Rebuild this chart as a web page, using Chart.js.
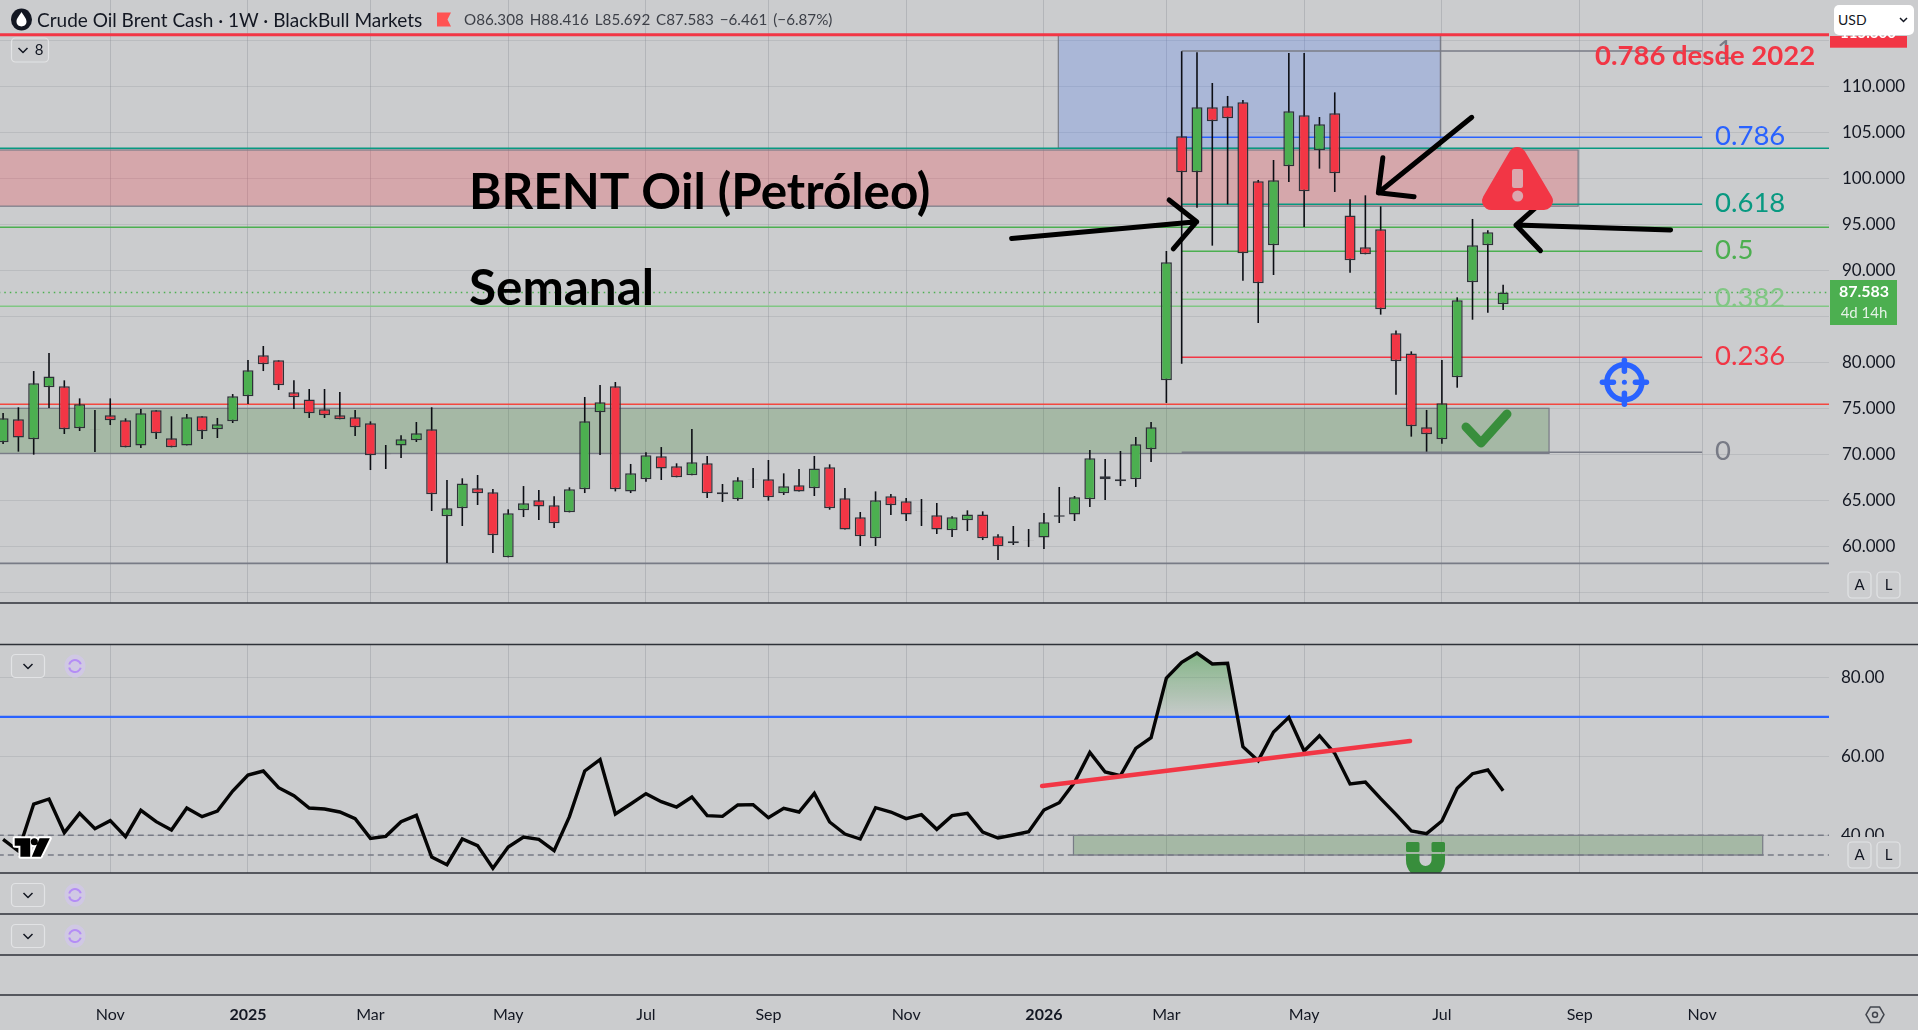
<!DOCTYPE html>
<html>
<head>
<meta charset="utf-8">
<title>Crude Oil Brent Cash</title>
<script src="https://cdn.jsdelivr.net/npm/chart.js@4"></script>
<style>
    body { margin: 0; background: #cbccce; overflow: hidden; font-family: Lato, sans-serif; }
    #wrap { position: relative; width: 1918px; height: 1030px; }
    canvas { position: absolute; left: 0; top: 0; }
    .title { position: absolute; left: 37px; top: 7px; font-size: 19px; line-height: 25px; color: #131722; white-space: nowrap; }
    .ohlc { position: absolute; left: 464px; top: 9px; font-size: 15.2px; line-height: 21px; color: #3d4048; white-space: nowrap; word-spacing: 2px; }
    .usd { position: absolute; left: 1834px; top: 5px; width: 80px; height: 30px; background: #fff; border-radius: 5px; font-size: 14px; line-height: 30px; text-indent: 4px; color: #131722; }
    .usd svg { position: absolute; right: 6px; top: 12px; }
</style>
</head>
<body>
<div id="wrap">
    <canvas id="myChart" width="1918" height="1030"></canvas>
    <div class="title">Crude Oil Brent Cash · 1W · BlackBull Markets</div>
    <div class="ohlc">O86.308 H88.416 L85.692 C87.583 −6.461 (−6.87%)</div>
    <div class="usd">USD<svg width="9" height="6"><path d="M1 1 L4.5 4.5 L8 1" fill="none" stroke="#131722" stroke-width="1.5"/></svg></div>
</div>
<script>
// weekly candles, oldest first (the first one is cut off by the left edge)
const opens = [71.30, 73.80, 71.63, 77.28, 77.39, 72.82, 72.72, 74.24, 73.69, 70.97, 74.78, 71.74, 70.97, 74.13, 72.71, 73.58, 76.30, 80.76, 80.21, 76.74, 75.97, 74.89, 74.24, 74.02, 73.37, 70.07, 70.97, 71.52, 72.71, 63.26, 64.13, 66.30, 65.87, 58.80, 63.91, 65.00, 64.45, 63.69, 66.19, 74.56, 77.39, 65.97, 67.28, 69.78, 68.69, 67.71, 69.02, 65.87, 65.11, 67.29, 67.28, 65.76, 66.63, 66.30, 68.58, 65.21, 63.15, 60.87, 65.43, 64.89, 63.81, 63.37, 61.74, 62.82, 63.47, 61.08, 60.54, 60.66, 60.97, 63.22, 63.47, 65.11, 67.28, 67.28, 67.28, 70.54, 78.04, 104.56, 100.65, 107.71, 107.82, 108.26, 99.67, 92.71, 101.30, 106.84, 103.04, 107.06, 95.97, 92.50, 94.45, 83.15, 80.97, 72.93, 71.63, 78.37, 88.69, 92.71, 86.308];
const highs = [74.49, 75.11, 79.05, 81.01, 78.04, 76.08, 74.82, 76.08, 73.91, 74.92, 74.78, 74.13, 74.38, 74.13, 73.95, 76.55, 80.25, 81.77, 80.21, 78.04, 77.10, 77.10, 76.77, 74.82, 73.58, 71.01, 72.06, 73.51, 75.11, 67.21, 67.39, 67.75, 66.23, 64.02, 66.55, 66.12, 65.43, 66.41, 76.23, 77.53, 77.86, 68.95, 70.21, 70.79, 69.02, 72.75, 69.82, 66.77, 67.50, 68.51, 69.38, 67.93, 68.40, 69.82, 68.91, 66.34, 63.73, 65.97, 65.68, 65.25, 65.14, 64.71, 63.26, 63.91, 63.80, 61.30, 62.21, 61.88, 63.62, 66.45, 65.47, 70.47, 69.49, 70.36, 71.88, 73.51, 92.10, 113.80, 113.69, 110.36, 108.95, 108.51, 99.82, 101.99, 113.62, 113.62, 106.66, 109.34, 97.71, 98.15, 96.95, 83.47, 81.19, 74.82, 80.25, 87.06, 95.58, 94.34, 88.416];
const lows = [71.12, 70.29, 69.96, 75.03, 72.21, 72.53, 70.25, 73.18, 70.76, 70.68, 71.66, 70.76, 70.97, 71.66, 71.77, 73.40, 75.47, 79.05, 76.99, 74.92, 73.95, 73.95, 73.80, 71.99, 68.29, 68.40, 69.60, 71.34, 63.84, 58.18, 62.21, 64.49, 59.27, 58.80, 63.18, 62.86, 61.99, 63.69, 65.79, 69.92, 65.97, 65.79, 67.03, 67.21, 67.50, 67.71, 65.25, 64.82, 64.96, 66.34, 64.96, 65.58, 65.97, 65.47, 63.98, 61.84, 60.03, 60.03, 63.40, 62.75, 62.21, 61.34, 61.01, 61.66, 60.68, 58.51, 60.14, 59.92, 59.71, 62.53, 62.75, 64.27, 65.03, 66.55, 66.45, 69.16, 75.58, 79.85, 96.81, 92.68, 97.17, 88.87, 84.27, 89.49, 99.60, 94.71, 101.05, 98.51, 89.74, 91.74, 85.18, 76.48, 71.92, 70.29, 71.16, 77.24, 84.63, 85.39, 85.692];
const closes = [73.91, 71.84, 77.71, 78.47, 72.71, 75.43, 72.70, 73.69, 70.76, 74.45, 72.28, 70.76, 74.02, 72.50, 73.26, 76.30, 79.13, 79.78, 77.50, 76.19, 74.45, 74.24, 73.80, 72.93, 69.89, 70.00, 71.63, 72.28, 65.65, 64.13, 66.84, 65.76, 61.19, 63.58, 64.67, 64.34, 62.50, 66.19, 73.58, 75.65, 66.19, 67.93, 69.89, 68.47, 67.50, 69.13, 65.76, 65.65, 67.17, 67.27, 65.32, 66.52, 65.97, 68.47, 64.13, 61.84, 61.08, 65.00, 64.45, 63.47, 63.79, 61.84, 63.15, 63.47, 60.87, 60.00, 60.32, 60.64, 62.61, 63.37, 65.32, 69.56, 67.61, 67.06, 71.08, 72.93, 90.87, 100.65, 107.71, 106.19, 106.52, 91.84, 88.58, 99.78, 107.28, 98.58, 105.87, 100.54, 91.08, 91.74, 85.76, 80.11, 73.04, 72.17, 75.54, 86.74, 92.71, 94.13, 87.583];
const rsiValues = [38.98, 36.03, 47.92, 49.19, 40.67, 45.56, 41.68, 43.70, 39.65, 46.32, 43.45, 41.34, 46.91, 44.72, 46.15, 51.22, 55.27, 56.28, 52.06, 50.03, 46.91, 46.66, 45.90, 44.21, 39.23, 39.74, 43.45, 45.05, 34.51, 32.57, 39.06, 37.38, 31.64, 37.04, 39.57, 38.98, 36.11, 44.72, 56.28, 59.15, 45.39, 47.92, 50.54, 48.52, 47.16, 49.70, 44.97, 44.80, 47.67, 47.76, 44.46, 46.83, 45.90, 50.62, 43.37, 40.33, 39.06, 47.00, 45.90, 44.21, 45.22, 41.51, 44.97, 45.56, 40.84, 39.32, 40.08, 40.92, 46.41, 48.26, 53.41, 61.00, 56.03, 55.10, 62.02, 64.72, 79.82, 83.79, 86.15, 83.37, 83.54, 62.44, 58.90, 66.15, 69.86, 61.34, 65.22, 60.75, 52.99, 53.49, 49.27, 45.31, 41.09, 40.41, 43.62, 51.89, 55.60, 56.53, 51.30];
const weeks = opens.map((_, i) => i - 1);

const timeTicks = [6, 15, 23, 32, 41, 49, 58, 67, 75, 84, 93, 102, 110];
const timeLabels = ["Nov", "2025", "Mar", "May", "Jul", "Sep", "Nov", "2026", "Mar", "May", "Jul", "Sep", "Nov"];
const priceTicks = [55, 60, 65, 70, 75, 80, 85, 90, 95, 100, 105, 110, 115];
const priceLabels = ["", "60.000", "65.000", "70.000", "75.000", "80.000", "", "90.000", "95.000", "100.000", "105.000", "110.000", ""];
const rsiTicks = [40, 60, 80];
const rsiLabels = ["40.00", "60.00", "80.00"];

const fibNames = ["1", "0.786", "0.618", "0.5", "0.382", "0.236", "0"];
const fibPrices = [113.84, 104.46, 97.17, 92.07, 86.85, 80.54, 70.22];
const fibColors = ["#787b86", "#2962ff", "#089981", "#4caf50", "#81c784", "#f23645", "#787b86"];

const GREEN = "#4caf50";
const RED = "#f23645";
const BG = "#cbccce";
const LINE_DARK = "#2e3138";
const FONT = "Lato, sans-serif";

// scale ends chosen so the two panes land where they are in the screenshot
const xMin = -1.202, xMax = 118.29;
const priceMin = 11.23, priceMax = 119.38;
const rsiMin = -0.43, rsiMax = 251.47;

const hLine = (value, from, to, color, width, axis, dash) => ({
    type: "line",
    data: [{ x: from, y: value }, { x: to, y: value }],
    borderColor: color,
    borderWidth: width,
    borderDash: dash || [],
    pointRadius: 0,
    yAxisID: axis,
    order: 5,
});

const freeLine = (points, color, width, axis) => ({
    type: "line",
    data: points,
    borderColor: color,
    borderWidth: width,
    borderCapStyle: "round",
    borderJoinStyle: "round",
    pointRadius: 0,
    tension: 0,
    yAxisID: axis,
    order: 0,
});

const ctx = document.getElementById("myChart").getContext("2d");

const rsiGradient = ctx.createLinearGradient(0, 655, 0, 717);
rsiGradient.addColorStop(0, "rgba(67, 160, 71, 0.5)");
rsiGradient.addColorStop(1, "rgba(67, 160, 71, 0.02)");

const datasets = [
    // body of each candle
    {
        type: "bar",
        data: weeks.map((w, i) => ({ x: w, y: [opens[i], closes[i]] })),
        backgroundColor: weeks.map((_, i) => (closes[i] >= opens[i] ? GREEN : RED)),
        borderColor: LINE_DARK,
        borderWidth: 1.5,
        borderSkipped: false,
        barThickness: 11,
        grouped: false,
        inflateAmount: 0,
        yAxisID: "y",
        order: 2,
    },
    // wicks
    {
        type: "bar",
        data: weeks.map((w, i) => ({ x: w, y: [lows[i], highs[i]] })),
        backgroundColor: "#0c0e14",
        borderWidth: 0,
        barThickness: 1.6,
        grouped: false,
        inflateAmount: 0,
        yAxisID: "y",
        order: 3,
    },
    // RSI
    {
        type: "line",
        data: weeks.map((w, i) => ({ x: w, y: rsiValues[i] })),
        borderColor: "#050505",
        borderWidth: 3.4,
        pointRadius: 0,
        tension: 0,
        fill: { target: { value: 70 }, above: rsiGradient, below: "rgba(0, 0, 0, 0)" },
        yAxisID: "yRsi",
        order: 1,
    },
    hLine(70, -2, 119, "#2962ff", 2.2, "yRsi"),
    hLine(40, -2, 119, "#787b86", 1.4, "yRsi", [6, 4]),
    hLine(35, -2, 119, "#787b86", 1.4, "yRsi", [6, 4]),
    freeLine([{ x: 66.88, y: 52.48 }, { x: 90.92, y: 63.87 }], RED, 4.5, "yRsi"),

    // levels on the price pane
    hLine(115.6, -2, 119, RED, 3, "y"),
    hLine(103.26, -2, 119, "#089981", 1.5, "y"),
    hLine(94.67, -2, 119, GREEN, 1.5, "y"),
    hLine(87.583, -2, 119, GREEN, 1.5, "y", [1.5, 4]),
    hLine(86.09, -2, 119, "#81c784", 1.5, "y"),
    hLine(75.43, -2, 119, "#f4473f", 1.5, "y"),
    hLine(58.15, -2, 119, "#787b86", 1.8, "y"),
    ...fibPrices.map((p, i) => hLine(p, 76, 110, fibColors[i], 1.5, "y")),

    // hand drawn arrows
    freeLine([{ x: 64.89, y: 93.46 }, { x: 76.98, y: 95.28 }, { x: 75.18, y: 97.64 }, { x: 76.98, y: 95.28 }, { x: 75.45, y: 92.33 }], "#000", 5, "y"),
    freeLine([{ x: 94.95, y: 106.63 }, { x: 88.85, y: 98.43 }, { x: 89.14, y: 102.24 }, { x: 88.85, y: 98.43 }, { x: 91.18, y: 98.0 }], "#000", 5, "y"),
    freeLine([{ x: 107.94, y: 94.38 }, { x: 97.84, y: 94.92 }, { x: 99.57, y: 97.46 }, { x: 97.84, y: 94.92 }, { x: 99.44, y: 92.13 }], "#000", 5, "y"),
];

const roundBox = (c, x, y, w, h, r) => {
    c.beginPath();
    c.roundRect(x, y, w, h, r);
    c.strokeStyle = "#e2e3e5";
    c.lineWidth = 1.2;
    c.stroke();
};

const chevron = (c, x, y) => {
    c.beginPath();
    c.moveTo(x - 4.5, y - 2);
    c.lineTo(x, y + 2.5);
    c.lineTo(x + 4.5, y - 2);
    c.strokeStyle = "#131722";
    c.lineWidth = 1.5;
    c.stroke();
};

const paneControls = (c, y) => {
    roundBox(c, 11.5, y - 11.5, 33, 23, 4);
    chevron(c, 28, y);
    c.beginPath();
    c.ellipse(75, y, 10.5, 11.5, 0, 0, Math.PI * 2);
    c.fillStyle = "#d0c8e4";
    c.fill();
    c.strokeStyle = "#b48df5";
    c.lineWidth = 2;
    c.beginPath();
    c.arc(75, y, 6, 0.3, 2.9);
    c.stroke();
    c.beginPath();
    c.arc(75, y, 6, 3.4, 6);
    c.stroke();
};

const textAt = (c, str, x, y, font, color, align) => {
    c.font = font;
    c.fillStyle = color;
    c.textAlign = align || "left";
    c.textBaseline = "middle";
    c.fillText(str, x, y);
};

// zones sit behind the candles, and the empty strips between panes hide the grid
const zonesPlugin = {
    id: "zones",
    beforeDatasetsDraw(chart) {
        const c = chart.ctx;
        const { x, y, yRsi } = chart.scales;
        c.save();
        c.fillStyle = BG;
        c.fillRect(0, 603, 1829, 41);
        c.fillRect(0, 873, 1829, 122);

        const zone = (from, to, top, bottom, scale, fill) => {
            const left = x.getPixelForValue(from);
            const right = x.getPixelForValue(to);
            const t = scale.getPixelForValue(top);
            const b = scale.getPixelForValue(bottom);
            c.fillStyle = fill;
            c.fillRect(left, t, right - left, b - t);
            c.strokeStyle = "#787b86";
            c.lineWidth = 1.2;
            c.strokeRect(left, t, right - left, b - t);
        };
        zone(67.94, 92.9, 115.6, 103.26, y, "rgba(41, 98, 255, 0.2)");
        zone(-3, 101.9, 103.08, 96.97, y, "rgba(242, 54, 69, 0.25)");
        zone(-3, 100, 75.0, 70.1, y, "rgba(52, 124, 42, 0.25)");
        zone(68.93, 113.96, 40, 35, yRsi, "rgba(52, 124, 42, 0.25)");
        c.restore();
    },
    afterDatasetsDraw(chart) {
        const c = chart.ctx;
        const { y, yRsi } = chart.scales;
        c.save();

        // fibonacci labels
        fibNames.forEach((name, i) => {
            textAt(c, name, name === "1" ? 1717 : 1715, y.getPixelForValue(fibPrices[i]) - 1, "27.5px " + FONT, fibColors[i]);
        });

        textAt(c, "BRENT Oil (Petróleo)", 469, 193.5, "bold 49.4px " + FONT, "#000");
        textAt(c, "Semanal", 469, 289.5, "bold 49.4px " + FONT, "#000");
        textAt(c, "0.786 desde 2022", 1595, 56, "bold 27.5px " + FONT, RED);

        // warning sign
        c.beginPath();
        c.moveTo(1517.3, 156);
        c.lineTo(1491, 201);
        c.lineTo(1544, 201);
        c.closePath();
        c.fillStyle = RED;
        c.strokeStyle = RED;
        c.lineWidth = 18;
        c.lineJoin = "round";
        c.fill();
        c.stroke();
        c.fillStyle = "#dba7ae";
        c.beginPath();
        c.roundRect(1512, 169, 11, 19, 2);
        c.fill();
        c.beginPath();
        c.arc(1517.7, 196, 5.5, 0, Math.PI * 2);
        c.fill();

        // target
        c.strokeStyle = "#2962ff";
        c.fillStyle = "#2962ff";
        c.lineWidth = 5.5;
        c.lineCap = "round";
        c.beginPath();
        c.arc(1624.4, 382.3, 17.5, 0, Math.PI * 2);
        c.stroke();
        [[0, -1], [0, 1], [-1, 0], [1, 0]].forEach(([dx, dy]) => {
            c.beginPath();
            c.moveTo(1624.4 + dx * 11, 382.3 + dy * 11);
            c.lineTo(1624.4 + dx * 22, 382.3 + dy * 22);
            c.stroke();
        });
        c.beginPath();
        c.arc(1624.4, 382.3, 2.5, 0, Math.PI * 2);
        c.fill();

        // check mark
        c.strokeStyle = "#388e3c";
        c.lineWidth = 9;
        c.lineJoin = "round";
        c.beginPath();
        c.moveTo(1466, 427);
        c.lineTo(1481, 443);
        c.lineTo(1507, 414);
        c.stroke();

        // magnet, cut by the bottom of the pane
        c.save();
        c.beginPath();
        c.rect(1400, 840, 60, 33);
        c.clip();
        c.fillStyle = "#388e3c";
        c.beginPath();
        c.roundRect(1406, 842, 13.5, 10, 1.5);
        c.roundRect(1431.5, 842, 13.5, 10, 1.5);
        c.fill();
        c.strokeStyle = "#388e3c";
        c.lineWidth = 13.5;
        c.lineCap = "butt";
        c.beginPath();
        c.moveTo(1412.7, 854);
        c.lineTo(1412.7, 860);
        c.arc(1425.5, 860, 12.8, Math.PI, 0, true);
        c.lineTo(1438.3, 854);
        c.stroke();
        c.restore();

        // pane borders
        c.strokeStyle = LINE_DARK;
        c.lineWidth = 1.5;
        c.lineCap = "butt";
        [603, 644.5, 873, 914, 955, 995].forEach((py) => {
            c.beginPath();
            c.moveTo(0, py);
            c.lineTo(1918, py);
            c.stroke();
        });

        // logo
        const logoT = () => {
            c.beginPath();
            c.moveTo(14.7, 838.3);
            c.lineTo(30.2, 838.3);
            c.lineTo(30.2, 856.7);
            c.lineTo(20.4, 856.7);
            c.lineTo(20.4, 845.7);
            c.lineTo(14.7, 845.7);
            c.closePath();
            c.moveTo(39.6, 838.3);
            c.lineTo(49.8, 838.3);
            c.lineTo(40.8, 856.7);
            c.lineTo(31.8, 856.7);
            c.closePath();
            c.moveTo(37.8, 841.7);
            c.arc(34.3, 841.7, 3.5, 0, Math.PI * 2);
        };
        logoT();
        c.strokeStyle = "#fff";
        c.lineWidth = 4;
        c.stroke();
        logoT();
        c.fillStyle = "#000";
        c.fill();

        // small controls
        roundBox(c, 11.5, 38, 37, 24, 4);
        chevron(c, 23, 50);
        textAt(c, "8", 39, 50, "15px " + FONT, "#131722", "center");
        paneControls(c, 666);
        paneControls(c, 895);
        paneControls(c, 936);

        // flag next to the title
        c.fillStyle = "#ff5252";
        c.beginPath();
        c.moveTo(437, 12.5);
        c.lineTo(451, 12.5);
        c.lineTo(447.5, 19.5);
        c.lineTo(451, 26.5);
        c.lineTo(437, 26.5);
        c.closePath();
        c.fill();

        // droplet icon
        c.fillStyle = "#131722";
        c.beginPath();
        c.ellipse(21.5, 19.5, 10.5, 11, 0, 0, Math.PI * 2);
        c.fill();
        c.fillStyle = "#fff";
        c.beginPath();
        c.moveTo(21.5, 12);
        c.bezierCurveTo(24, 16, 26.5, 18.5, 26.5, 21.5);
        c.bezierCurveTo(26.5, 28, 16.5, 28, 16.5, 21.5);
        c.bezierCurveTo(16.5, 18.5, 19, 16, 21.5, 12);
        c.fill();

        // right axis tags and buttons
        c.fillStyle = RED;
        c.fillRect(1830, 36, 77, 11.7);
        textAt(c, "115.600", 1868, 33, "bold 15px " + FONT, "#fff", "center");
        c.fillStyle = GREEN;
        c.fillRect(1830, 280, 67, 45);
        textAt(c, "87.583", 1864, 292, "bold 16px " + FONT, "#fff", "center");
        textAt(c, "4d 14h", 1864, 313, "15px " + FONT, "#e4f2e5", "center");

        // the RSI axis has no width of its own, its labels are written here
        rsiTicks.forEach((v, i) => {
            textAt(c, rsiLabels[i], 1841, yRsi.getPixelForValue(v), "17px " + FONT, "#131722");
        });
        c.fillStyle = BG;
        c.fillRect(1832, 837, 80, 34);
        [585, 855].forEach((py) => {
            roundBox(c, 1848, py - 13, 23, 26, 4);
            roundBox(c, 1877, py - 13, 23, 26, 4);
            textAt(c, "A", 1859.5, py, "15px " + FONT, "#131722", "center");
            textAt(c, "L", 1888.5, py, "15px " + FONT, "#131722", "center");
        });

        // settings hexagon
        c.strokeStyle = "#42454d";
        c.lineWidth = 1.5;
        c.beginPath();
        for (let i = 0; i < 6; i++) {
            const a = Math.PI * i / 3;
            const hx = 1875 + 9 * Math.cos(a);
            const hy = 1014.7 + 9 * Math.sin(a);
            if (i === 0) c.moveTo(hx, hy);
            else c.lineTo(hx, hy);
        }
        c.closePath();
        c.stroke();
        c.beginPath();
        c.arc(1875, 1014.7, 2.5, 0, Math.PI * 2);
        c.stroke();
        c.restore();
    },
};

const gridColor = "rgba(120, 123, 134, 0.2)";

// no room kept for the outer tick labels, the chart area fills the canvas
const noAxisPadding = (axis) => {
    axis.paddingTop = 0;
    axis.paddingBottom = 0;
    axis.paddingLeft = 0;
    axis.paddingRight = 0;
};

new Chart(ctx, {
    type: "bar",
    data: { datasets },
    plugins: [zonesPlugin],
    options: {
        responsive: false,
        animation: false,
        events: [],
        layout: { padding: 0, autoPadding: false },
        plugins: { legend: { display: false }, tooltip: { enabled: false } },
        scales: {
            x: {
                type: "linear",
                min: xMin,
                max: xMax,
                offset: false,
                afterBuildTicks: (axis) => {
                    axis.ticks = timeTicks.map((v) => ({ value: v }));
                },
                afterFit: (axis) => {
                    axis.height = 35;
                    noAxisPadding(axis);
                },
                grid: { offset: false, color: "rgba(120, 123, 134, 0.28)", drawTicks: false },
                border: { display: false },
                ticks: {
                    autoSkip: false,
                    maxRotation: 0,
                    padding: 10,
                    color: "#131722",
                    callback: (v, i) => timeLabels[i],
                    font: (c) => ({
                        family: FONT,
                        size: 16,
                        weight: /^\d+$/.test(c.tick ? c.tick.label : "") ? "bold" : "normal",
                    }),
                },
            },
            y: {
                position: "right",
                min: priceMin,
                max: priceMax,
                weight: 1,
                afterBuildTicks: (axis) => {
                    axis.ticks = priceTicks.map((v) => ({ value: v }));
                },
                afterFit: (axis) => {
                    axis.width = 89;
                    noAxisPadding(axis);
                },
                grid: { color: gridColor, drawTicks: false },
                border: { display: false },
                ticks: {
                    autoSkip: false,
                    padding: 13,
                    color: "#131722",
                    font: { family: FONT, size: 17 },
                    callback: (v, i) => priceLabels[i],
                },
            },
            yRsi: {
                position: "right",
                min: rsiMin,
                max: rsiMax,
                weight: 0,
                afterBuildTicks: (axis) => {
                    axis.ticks = rsiTicks.map((v) => ({ value: v }));
                },
                afterFit: (axis) => {
                    axis.width = 0;
                    noAxisPadding(axis);
                },
                grid: { color: gridColor, drawTicks: false },
                border: { display: false },
                ticks: { display: false },
            },
        },
    },
});
</script>
</body>
</html>
